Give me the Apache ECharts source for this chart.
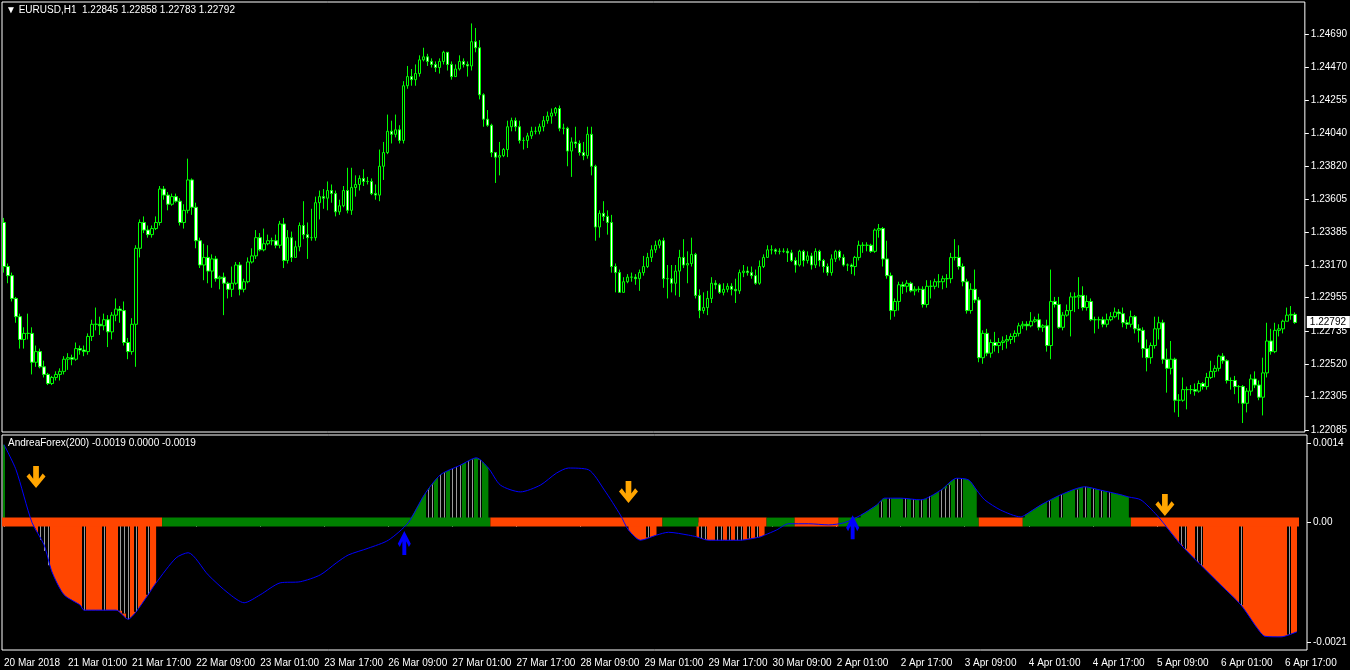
<!DOCTYPE html>
<html>
<head>
<meta charset="utf-8">
<title>EURUSD,H1</title>
<script src="https://cdn.jsdelivr.net/npm/echarts@6/dist/echarts.min.js"></script>
<style>
  html, body { margin: 0; padding: 0; background: #000; }
  #main { width: 1350px; height: 670px; }
</style>
</head>
<body>
<div id="main"></div>
<script>
// EURUSD H1 bars (open of each bar = close of the previous one)
const firstOpen = 1.2345
const closes = [
  1.2316,1.2310,1.2295,1.2283,1.2268,1.2272,1.2272,1.2253,1.2260,1.2250,1.2245,1.2239,1.2243,1.2245,1.2247,1.2255,
  1.2256,1.2255,1.2262,1.2261,1.2260,1.2270,1.2278,1.2278,1.2277,1.2281,1.2273,1.2284,1.2288,1.2287,1.2266,1.2260,
  1.2278,1.2328,1.2345,1.2340,1.2337,1.2341,1.2345,1.2367,1.2363,1.2357,1.2362,1.2359,1.2345,1.2353,1.2373,1.2355,
  1.2333,1.2317,1.2322,1.2313,1.2321,1.2308,1.2309,1.2305,1.2301,1.2305,1.2317,1.2301,1.2306,1.2319,1.2323,1.2335,
  1.2327,1.2331,1.2333,1.2333,1.2330,1.2344,1.2320,1.2335,1.2322,1.2329,1.2343,1.2337,1.2335,1.2335,1.2358,1.2362,
  1.2361,1.2366,1.2364,1.2352,1.2356,1.2366,1.2353,1.2368,1.2370,1.2374,1.2372,1.2372,1.2364,1.2363,1.2382,1.2391,
  1.2405,1.2403,1.2406,1.2399,1.2435,1.2441,1.2439,1.2443,1.2452,1.2454,1.2451,1.2449,1.2447,1.2451,1.2457,1.2449,
  1.2441,1.2446,1.2451,1.2449,1.2448,1.2464,1.2460,1.2429,1.2413,1.2409,1.2391,1.2388,1.2389,1.2393,1.2408,1.2412,
  1.2408,1.2399,1.2399,1.2402,1.2405,1.2405,1.2408,1.2412,1.2415,1.2417,1.2420,1.2407,1.2407,1.2392,1.2398,1.2397,
  1.2391,1.2389,1.2403,1.2382,1.2342,1.2351,1.2349,1.2345,1.2316,1.2312,1.2299,1.2306,1.2309,1.2309,1.2308,1.2312,
  1.2316,1.2322,1.2327,1.2330,1.2333,1.2308,1.2308,1.2305,1.2313,1.2322,1.2317,1.2318,1.2324,1.2297,1.2287,1.2289,
  1.2295,1.2305,1.2304,1.2299,1.2301,1.2303,1.2301,1.2300,1.2312,1.2313,1.2312,1.2310,1.2305,1.2316,1.2322,1.2327,
  1.2327,1.2326,1.2326,1.2326,1.2325,1.2320,1.2317,1.2326,1.2320,1.2323,1.2317,1.2326,1.2320,1.2316,1.2312,1.2321,
  1.2326,1.2322,1.2317,1.2317,1.2316,1.2322,1.2330,1.2330,1.2330,1.2326,1.2340,1.2341,1.2321,1.2310,1.2287,1.2293,
  1.2304,1.2303,1.2305,1.2300,1.2301,1.2301,1.2291,1.2303,1.2303,1.2306,1.2306,1.2308,1.2308,1.2322,1.2322,1.2316,
  1.2306,1.2287,1.2301,1.2294,1.2256,1.2272,1.2259,1.2266,1.2264,1.2266,1.2267,1.2268,1.2270,1.2272,1.2277,1.2278,
  1.2277,1.2280,1.2281,1.2276,1.2277,1.2264,1.2293,1.2291,1.2276,1.2284,1.2287,1.2296,1.2296,1.2297,1.2289,1.2293,
  1.2281,1.2281,1.2281,1.2278,1.2281,1.2283,1.2286,1.2285,1.2279,1.2278,1.2283,1.2275,1.2274,1.2262,1.2256,1.2264,
  1.2275,1.2279,1.2255,1.2249,1.2255,1.2228,1.2228,1.2235,1.2235,1.2235,1.2234,1.2239,1.2237,1.2243,1.2247,1.2249,
  1.2257,1.2254,1.2241,1.2241,1.2237,1.2237,1.2226,1.2234,1.2242,1.2238,1.2230,1.2246,1.2267,1.2260,1.2274,1.2275,
  1.2280,1.2284,1.22845,1.22792
]
const highs = [
  1.2348,1.2318,1.2312,1.2296,1.2285,1.2276,1.2285,1.2276,1.2264,1.2262,1.2254,1.2246,1.2244,1.2247,1.2249,1.2257,
  1.2259,1.2258,1.2266,1.2264,1.2264,1.2272,1.2281,1.2289,1.2283,1.2285,1.2284,1.2286,1.2295,1.2290,1.2293,1.2269,
  1.2282,1.2330,1.2347,1.2349,1.2343,1.2343,1.2349,1.2369,1.2369,1.2365,1.2364,1.2364,1.2361,1.2357,1.2387,1.2374,
  1.2358,1.2335,1.2331,1.2330,1.2324,1.2323,1.2310,1.2312,1.2306,1.2316,1.2319,1.2319,1.2308,1.2322,1.2328,1.2340,
  1.2338,1.2341,1.2337,1.2335,1.2337,1.2346,1.2348,1.2340,1.2339,1.2333,1.2345,1.2359,1.2345,1.2354,1.2362,1.2366,
  1.2367,1.2372,1.2370,1.2366,1.2360,1.2369,1.2381,1.2381,1.2376,1.2376,1.2380,1.2375,1.2374,1.2370,1.2393,1.2398,
  1.2416,1.2412,1.2416,1.2409,1.2438,1.2448,1.2446,1.2449,1.2455,1.2460,1.2456,1.2453,1.2451,1.2453,1.2458,1.2457,
  1.2451,1.2449,1.2455,1.2453,1.2451,1.2476,1.2473,1.2465,1.2430,1.2419,1.2410,1.2391,1.2398,1.2394,1.2412,1.2414,
  1.2414,1.2412,1.2401,1.2404,1.2408,1.2408,1.2410,1.2415,1.2418,1.2420,1.2421,1.2422,1.2410,1.2408,1.2401,1.2408,
  1.2399,1.2398,1.2408,1.2408,1.2383,1.2353,1.2359,1.2353,1.2350,1.2318,1.2314,1.2309,1.2311,1.2312,1.2311,1.2314,
  1.2323,1.2325,1.2330,1.2333,1.2334,1.2335,1.2317,1.2317,1.2317,1.2327,1.2334,1.2326,1.2335,1.2325,1.2301,1.2299,
  1.2300,1.2309,1.2307,1.2305,1.2305,1.2305,1.2305,1.2308,1.2314,1.2317,1.2316,1.2316,1.2314,1.2320,1.2324,1.2330,
  1.2330,1.2328,1.2328,1.2328,1.2328,1.2327,1.2322,1.2327,1.2327,1.2326,1.2325,1.2328,1.2327,1.2321,1.2318,1.2324,
  1.2327,1.2327,1.2324,1.2318,1.2318,1.2323,1.2333,1.2332,1.2332,1.2331,1.2341,1.2344,1.2342,1.2333,1.2312,1.2295,
  1.2306,1.2306,1.2307,1.2306,1.2303,1.2303,1.2303,1.2307,1.2307,1.2308,1.2311,1.2310,1.2311,1.2325,1.2334,1.2330,
  1.2318,1.2308,1.2305,1.2314,1.2296,1.2274,1.2275,1.2268,1.2273,1.2269,1.2270,1.2271,1.2272,1.2274,1.2279,1.2280,
  1.2280,1.2286,1.2283,1.2285,1.2278,1.2281,1.2314,1.2296,1.2296,1.2286,1.2291,1.2299,1.2299,1.2309,1.2303,1.2297,
  1.2295,1.2283,1.2283,1.2283,1.2285,1.2286,1.2289,1.2288,1.2289,1.2281,1.2287,1.2284,1.2278,1.2276,1.2268,1.2266,
  1.2283,1.2283,1.2281,1.2262,1.2267,1.2256,1.2232,1.2243,1.2237,1.2238,1.2239,1.2241,1.2240,1.2246,1.2254,1.2251,
  1.2258,1.2259,1.2255,1.2243,1.2244,1.2238,1.2238,1.2236,1.2245,1.2247,1.2241,1.2256,1.2279,1.2275,1.2279,1.2278,
  1.2281,1.2289,1.2290,1.22858
]
const lows = [
  1.2312,1.2305,1.2293,1.2279,1.2262,1.2262,1.2268,1.2245,1.2250,1.2249,1.2243,1.2238,1.2238,1.2241,1.2241,1.2245,
  1.2248,1.2251,1.2254,1.2258,1.2257,1.2258,1.2267,1.2274,1.2271,1.2274,1.2263,1.2268,1.2280,1.2279,1.2264,1.2255,
  1.2258,1.2250,1.2322,1.2338,1.2335,1.2335,1.2340,1.2343,1.2360,1.2353,1.2356,1.2358,1.2343,1.2341,1.2351,1.2350,
  1.2328,1.2315,1.2307,1.2305,1.2302,1.2306,1.2301,1.2284,1.2295,1.2296,1.2304,1.2297,1.2299,1.2305,1.2318,1.2321,
  1.2326,1.2326,1.2330,1.2330,1.2328,1.2328,1.2315,1.2318,1.2319,1.2322,1.2326,1.2334,1.2321,1.2333,1.2333,1.2347,
  1.2354,1.2353,1.2358,1.2349,1.2350,1.2355,1.2351,1.2350,1.2362,1.2366,1.2369,1.2370,1.2363,1.2360,1.2359,1.2373,
  1.2390,1.2397,1.2401,1.2397,1.2397,1.2433,1.2435,1.2435,1.2441,1.2451,1.2448,1.2447,1.2444,1.2443,1.2449,1.2445,
  1.2439,1.2441,1.2445,1.2447,1.2441,1.2445,1.2457,1.2426,1.2408,1.2408,1.2388,1.2371,1.2376,1.2388,1.2388,1.2405,
  1.2405,1.2397,1.2393,1.2394,1.2400,1.2403,1.2403,1.2405,1.2410,1.2410,1.2415,1.2405,1.2403,1.2382,1.2375,1.2394,
  1.2389,1.2386,1.2387,1.2376,1.2333,1.2335,1.2346,1.2337,1.2312,1.2299,1.2299,1.2299,1.2305,1.2306,1.2304,1.2300,
  1.2310,1.2315,1.2319,1.2325,1.2328,1.2302,1.2295,1.2299,1.2297,1.2296,1.2315,1.2305,1.2316,1.2295,1.2282,1.2285,
  1.2284,1.2292,1.2301,1.2298,1.2297,1.2299,1.2297,1.2292,1.2298,1.2309,1.2310,1.2308,1.2304,1.2304,1.2315,1.2322,
  1.2324,1.2324,1.2324,1.2325,1.2319,1.2319,1.2312,1.2316,1.2316,1.2318,1.2314,1.2315,1.2316,1.2312,1.2310,1.2310,
  1.2319,1.2320,1.2316,1.2313,1.2311,1.2310,1.2320,1.2325,1.2326,1.2325,1.2325,1.2335,1.2316,1.2308,1.2281,1.2283,
  1.2287,1.2298,1.2299,1.2299,1.2297,1.2299,1.2289,1.2289,1.2295,1.2301,1.2302,1.2301,1.2302,1.2305,1.2320,1.2314,
  1.2303,1.2285,1.2285,1.2292,1.2253,1.2252,1.2257,1.2256,1.2260,1.2259,1.2261,1.2262,1.2265,1.2266,1.2270,1.2275,
  1.2274,1.2276,1.2279,1.2274,1.2273,1.2260,1.2255,1.2289,1.2275,1.2274,1.2283,1.2270,1.2286,1.2288,1.2287,1.2287,
  1.2280,1.2272,1.2275,1.2276,1.2276,1.2280,1.2282,1.2281,1.2276,1.2275,1.2276,1.2272,1.2266,1.2256,1.2247,1.2252,
  1.2262,1.2268,1.2252,1.2233,1.2245,1.2220,1.2217,1.2227,1.2222,1.2232,1.2231,1.2233,1.2235,1.2235,1.2242,1.2243,
  1.2247,1.2252,1.2239,1.2235,1.2232,1.2226,1.2213,1.2220,1.2231,1.2236,1.2228,1.2218,1.2243,1.2258,1.2259,1.2270,
  1.2272,1.2280,1.2281,1.22783
]
const lastBar = { o: 1.22845, h: 1.22858, l: 1.22783, c: 1.22792 }

const priceTicks = [1.22085, 1.22305, 1.22520, 1.22735, 1.22955, 1.23170, 1.23385,
  1.23605, 1.23820, 1.24040, 1.24255, 1.24470, 1.24690]
const timeLabels = ['20 Mar 2018', '21 Mar 01:00', '21 Mar 17:00', '22 Mar 09:00', '23 Mar 01:00',
  '23 Mar 17:00', '26 Mar 09:00', '27 Mar 01:00', '27 Mar 17:00', '28 Mar 09:00', '29 Mar 01:00',
  '29 Mar 17:00', '30 Mar 09:00', '2 Apr 01:00', '2 Apr 17:00', '3 Apr 09:00', '4 Apr 01:00',
  '4 Apr 17:00', '5 Apr 09:00', '6 Apr 01:00', '6 Apr 17:00']

// AndreaForex(200) indicator: [bar index, value]
const forexLine = [
  [0,0.00137],[3,0.00093],[7,0],[10,-0.00039],[12,-0.00087],[15,-0.00127],[19,-0.00145],[20,-0.00154],
  [28,-0.00154],[31,-0.0017],[33,-0.00157],[36,-0.00127],[38,-0.00106],[43,-0.00062],[46,-0.00053],
  [51,-0.00092],[56,-0.00124],[60,-0.00141],[64,-0.00127],[69,-0.00106],[74,-0.00104],[79,-0.00092],
  [83,-0.00071],[86,-0.00057],[91,-0.00045],[96,-0.00031],[101,0],[105,0.00049],[109,0.00084],
  [114,0.00101],[118,0.00114],[121,0.00096],[124,0.00066],[129,0.00054],[134,0.00066],[138,0.00087],
  [141,0.00096],[146,0.00093],[150,0.00057],[154,0.00013],[156,-0.00013],[159,-0.00031],[163,-0.00022],
  [166,-0.00017],[171,-0.00022],[173,-0.00025],[176,-0.00031],[184,-0.00031],[189,-0.00025],[190,-0.00022],
  [193,-0.00013],[196,-0.00002],[201,-0.00002],[206,-0.00004],[210,0],[214,0.00013],[218,0.00031],
  [220,0.00043],[224,0.00043],[229,0.0004],[234,0.00057],[238,0.00078],[241,0.00075],[243,0.00057],
  [245,0.0004],[249,0.00022],[254,0.0001],[255,0.00013],[259,0.00031],[264,0.00049],[270,0.00063],
  [274,0.00057],[279,0.00049],[281,0.00045],[284,0.0004],[288,0.00013],[290,-0.00004],[294,-0.00039],
  [299,-0.00075],[304,-0.0011],[309,-0.00145],[313,-0.00185],[315,-0.002],[319,-0.00201],[323,-0.00192]
]
// bar ranges where the histogram is drawn
const histRanges = [[7,38],[101,121],[156,163],[173,190],[197,208],[214,243],[255,281],[290,323]]
// trend band on the zero line: [first bar, last bar, +1 up / -1 down]
const trendBand = [[0,39,-1],[40,121,1],[122,164,-1],[165,173,1],[174,190,-1],[191,197,1],
  [198,208,-1],[209,243,1],[244,254,-1],[255,281,1],[282,323,-1]]
// empty histogram bars (black with a grey line): [bar index, value, kind]
const histGaps = [
  [0,0.00137,1],
  [9,-0.0003,0],[10,-0.0005,0],[11,-0.00075,0],[20,-0.00154,0],[25,-0.00154,0],[29,-0.00155,0],
  [30,-0.0016,0],[31,-0.0017,0],[33,-0.00157,0],[36,-0.00127,0],
  [106,0.00058,0],[107,0.00067,0],[109,0.00084,0],[110,0.00088,0],[112,0.00095,0],[113,0.00098,0],
  [114,0.00101,0],[116,0.00108,0],[117,0.00111,0],[119,0.0011,0],
  [161,-0.00026,0],
  [174,-0.00027,0],[175,-0.00029,0],[178,-0.00031,0],[179,-0.00031,0],[181,-0.00031,0],[183,-0.00031,0],
  [184,-0.00031,0],[186,-0.00028,0],[188,-0.00026,0],
  [219,0.00037,0],[221,0.00043,0],[225,0.00043,0],[227,0.00041,0],[229,0.0004,0],[231,0.00047,0],
  [234,0.00057,0],[235,0.0006,0],[236,0.00066,0],[238,0.00078,0],[239,0.00077,0],
  [261,0.00038,0],[264,0.00049,0],[268,0.00058,0],[270,0.00063,0],[272,0.0006,0],[274,0.00057,0],[276,0.00054,0],
  [294,-0.00039,0],[295,-0.00046,0],[298,-0.00068,0],[299,-0.00075,0],[309,-0.00145,0],[321,-0.00197,0]
]
const sellArrows = [[8,0.0008],[156,0.00054],[290,0.00031]]
const buyArrows = [[100,-0.00036],[212,-0.00008]]
const forexTicks = [-0.0021, 0, 0.0014]

const GREEN = '#008000'
const ORANGE = '#ff4500'
const FONT = 'Liberation Sans'
const SMOOTH = 0.25
const barCount = 326 // 324 bars + a little chart shift on the right

const cats = Array.from({ length: barCount }, (_, i) => String(i))
const candles = closes.map((c, i) => {
  const o = i === 0 ? firstOpen : closes[i - 1]
  return [o, c, Math.min(lows[i], o, c), Math.max(highs[i], o, c)]
})

const histSeries = histRanges.map(([s, e]) => {
  const pts = forexLine.filter(p => p[0] >= s && p[0] <= e)
  const neg = pts.reduce((a, p) => a + p[1], 0) < 0
  return {
    type: 'line',
    xAxisIndex: 1,
    yAxisIndex: 1,
    data: pts,
    smooth: SMOOTH,
    showSymbol: false,
    silent: true,
    lineStyle: { width: 0 },
    areaStyle: { color: neg ? ORANGE : GREEN, opacity: 1 },
    z: 1
  }
})

const chartDom = document.getElementById('main')
const myChart = echarts.init(chartDom, null, { renderer: 'canvas' })

myChart.setOption({
  backgroundColor: '#000',
  animation: false,
  textStyle: { fontFamily: FONT },
  graphic: [
    {
      type: 'text', left: 6, top: 5,
      style: { text: '\u25BC EURUSD,H1  1.22845 1.22858 1.22783 1.22792', fill: '#fff', font: '10px ' + FONT }
    },
    {
      type: 'text', left: 8, top: 438,
      style: { text: 'AndreaForex(200) -0.0019 0.0000 -0.0019', fill: '#fff', font: '10px ' + FONT }
    }
  ],
  grid: [
    { left: 2, right: 43, top: 2, height: 430, show: true, borderColor: '#fff', borderWidth: 1, backgroundColor: '#000' },
    { left: 2, right: 43, top: 435, height: 215, show: true, borderColor: '#fff', borderWidth: 1, backgroundColor: '#000' }
  ],
  xAxis: [
    {
      type: 'category', gridIndex: 0, data: cats, boundaryGap: true,
      axisLine: { show: false }, axisTick: { show: false }, axisLabel: { show: false }, splitLine: { show: false }
    },
    {
      type: 'category', gridIndex: 1, data: cats, boundaryGap: true,
      axisLine: { show: false },
      axisTick: { show: true, interval: 15, alignWithLabel: true, length: 4, lineStyle: { color: '#fff' } },
      axisLabel: {
        interval: 15, color: '#fff', fontSize: 10, fontFamily: FONT, align: 'left', margin: 8,
        formatter: (v, idx) => (idx % 16 === 0 && timeLabels[idx / 16]) || ''
      },
      splitLine: { show: false }
    }
  ],
  yAxis: [
    {
      type: 'value', gridIndex: 0, position: 'right', min: 1.22071, max: 1.24901, scale: true,
      splitLine: { show: false }, axisLine: { show: false },
      axisTick: { show: true, customValues: priceTicks, length: 4, lineStyle: { color: '#fff' } },
      axisLabel: { customValues: priceTicks, color: '#fff', fontSize: 10, fontFamily: FONT, margin: 6,
        formatter: v => v.toFixed(5) }
    },
    {
      type: 'value', gridIndex: 1, position: 'right', min: -0.002241, max: 0.001541,
      splitLine: { show: false }, axisLine: { show: false },
      axisTick: { show: true, customValues: forexTicks, length: 4, lineStyle: { color: '#fff' } },
      axisLabel: { customValues: forexTicks, color: '#fff', fontSize: 10, fontFamily: FONT, margin: 6,
        formatter: v => (Math.abs(v) < 1e-9 ? '0.00' : v.toFixed(4)) }
    }
  ],
  series: [
    {
      name: 'EURUSD,H1',
      type: 'candlestick',
      xAxisIndex: 0,
      yAxisIndex: 0,
      data: candles,
      barWidth: 3,
      itemStyle: {
        color: '#000',
        color0: '#fff',
        borderColor: '#00ff00',
        borderColor0: '#00ff00',
        borderWidth: 1
      }
    },
    ...histSeries,
    {
      type: 'custom',
      xAxisIndex: 1,
      yAxisIndex: 1,
      silent: true,
      z: 2,
      data: histGaps,
      encode: { x: 0, y: 1 },
      renderItem: (params, api) => {
        const base = api.coord([api.value(0), 0])
        const tip = api.coord([api.value(0), api.value(1)])
        const w = api.size([1, 0])[0]
        const y = Math.min(base[1], tip[1])
        const h = Math.abs(tip[1] - base[1])
        const x = Math.round(base[0])
        if (api.value(2) === 1) {
          return { type: 'rect', shape: { x: x - 1, y: y, width: 2, height: h }, style: { fill: GREEN } }
        }
        return {
          type: 'group',
          children: [
            { type: 'rect', shape: { x: x - w / 2, y: y, width: w, height: h }, style: { fill: '#000' } },
            { type: 'rect', shape: { x: x, y: y, width: 1, height: h }, style: { fill: '#9a9a9a' } }
          ]
        }
      }
    },
    {
      type: 'custom',
      xAxisIndex: 1,
      yAxisIndex: 1,
      silent: true,
      z: 3,
      data: trendBand,
      encode: { x: [0, 1], y: 2 },
      renderItem: (params, api) => {
        const p0 = api.coord([api.value(0), 0])
        const p1 = api.coord([api.value(1), 0])
        const w = api.size([1, 0])[0]
        return {
          type: 'rect',
          shape: { x: p0[0] - w / 2, y: p0[1] - 5, width: p1[0] - p0[0] + w, height: 9 },
          style: { fill: api.value(2) > 0 ? GREEN : ORANGE }
        }
      }
    },
    {
      name: 'AndreaForex(200)',
      type: 'line',
      xAxisIndex: 1,
      yAxisIndex: 1,
      data: forexLine,
      smooth: SMOOTH,
      showSymbol: false,
      silent: true,
      lineStyle: { color: '#0000ff', width: 1 },
      z: 4
    },
    {
      type: 'scatter',
      xAxisIndex: 1,
      yAxisIndex: 1,
      data: sellArrows,
      symbol: 'path://M7,0 L13,0 L13,12 L17,7 L20,10 L10,21 L0,10 L3,7 L7,12 Z',
      symbolSize: [19, 22],
      itemStyle: { color: '#ffa500', opacity: 1 },
      silent: true,
      z: 5
    },
    {
      type: 'scatter',
      xAxisIndex: 1,
      yAxisIndex: 1,
      data: buyArrows,
      symbol: 'path://M7,21 L13,21 L13,9 L17,14 L20,11 L10,0 L0,11 L3,14 L7,9 Z',
      symbolSize: [13, 24],
      itemStyle: { color: '#0000ff', opacity: 1 },
      silent: true,
      z: 5
    }
  ]
})

// current price box on the price scale, placed through the axis scale
const bidY = myChart.convertToPixel({ yAxisIndex: 0 }, lastBar.c)
const gridRight = myChart.convertToPixel({ xAxisIndex: 0 }, cats.length - 1) + 2
myChart.setOption({
  graphic: [
    {
      type: 'text', left: 6, top: 5,
      style: { text: '\u25BC EURUSD,H1  1.22845 1.22858 1.22783 1.22792', fill: '#fff', font: '10px ' + FONT }
    },
    {
      type: 'text', left: 8, top: 438,
      style: { text: 'AndreaForex(200) -0.0019 0.0000 -0.0019', fill: '#fff', font: '10px ' + FONT }
    },
    {
      type: 'rect', z: 100,
      shape: { x: gridRight + 2, y: Math.round(bidY) - 6, width: 43, height: 12 },
      style: { fill: '#fff' }
    },
    {
      type: 'text', z: 101, x: gridRight + 5, y: Math.round(bidY),
      style: { text: lastBar.c.toFixed(5), fill: '#000', font: '10px ' + FONT, verticalAlign: 'middle' }
    }
  ]
})
</script>
</body>
</html>
